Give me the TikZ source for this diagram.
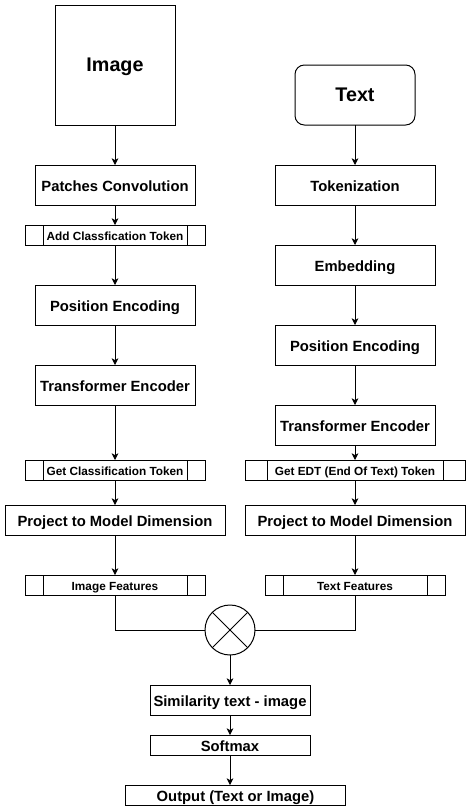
\documentclass[tikz,border=0pt]{standalone}
\usepackage{fontspec}
\setmainfont{Liberation Sans}
\usetikzlibrary{arrows.meta,calc}

\begin{document}
\begin{tikzpicture}[x=0.75pt,y=-0.75pt,line width=0.75pt,
    box/.style={draw,inner sep=0pt,outer sep=0pt,minimum width=120pt,minimum height=30pt,text height=1.2em,text depth=0.2em,font=\fontsize{11.1}{13}\selectfont\bfseries},
    wide/.style={box,minimum width=165pt,minimum height=22.5pt},
    proc/.style={box,minimum width=135pt,minimum height=15pt,text height=1.05em,font=\fontsize{8.85}{10}\selectfont\bfseries,
        path picture={\draw ($(path picture bounding box.north west)!0.1!(path picture bounding box.north east)$) -- ($(path picture bounding box.south west)!0.1!(path picture bounding box.south east)$)
            ($(path picture bounding box.north east)!0.1!(path picture bounding box.north west)$) -- ($(path picture bounding box.south east)!0.1!(path picture bounding box.south west)$);}},
    big/.style={box,font=\fontsize{14.8}{17}\selectfont\bfseries},
    arr/.style={-{Stealth[length=5pt,width=5pt,inset=1.3pt]}}]
    \useasboundingbox (0,0) rectangle (471,811);
    \node[big,minimum width=90pt,minimum height=90pt] (img) at (115,65) {Image};
    \node[box] (patch) at (115,185) {Patches Convolution};
    \node[proc] (addcls) at (115,235) {Add Classfication Token};
    \node[box] (posl) at (115,305) {Position Encoding};
    \node[box] (encl) at (115,385) {Transformer Encoder};
    \node[proc] (getcls) at (115,470) {Get Classification Token};
    \node[wide] (projl) at (115,520) {Project to Model Dimension};
    \node[proc] (imgfeat) at (115,585) {Image Features};
    \node[big,rounded corners=7pt,minimum width=90pt,minimum height=45pt] (txt) at (355,95) {Text};
    \node[box] (tok) at (355,185) {Tokenization};
    \node[box] (emb) at (355,265) {Embedding};
    \node[box] (posr) at (355,345) {Position Encoding};
    \node[box] (encr) at (355,425) {Transformer Encoder};
    \node[proc,minimum width=165pt] (getedt) at (355,470) {Get EDT (End Of Text) Token};
    \node[wide] (projr) at (355,520) {Project to Model Dimension};
    \node[proc] (txtfeat) at (355,585) {Text Features};
    \node[draw,circle,inner sep=0pt,outer sep=0pt,minimum size=37.5pt,
        path picture={\draw (path picture bounding box.north west) -- (path picture bounding box.south east)
            (path picture bounding box.north east) -- (path picture bounding box.south west);}] (mul) at (230,630) {};
    \node[wide,minimum width=120pt] (sim) at (230,700) {Similarity text - image};
    \node[box,minimum height=15pt] (soft) at (230,745) {Softmax};
    \node[wide,minimum height=15pt] (out) at (235.5,795) {Output (Text or Image)};
    \draw[arr] (img) -- (patch);
    \draw[arr] (patch) -- (addcls);
    \draw[arr] (addcls) -- (posl);
    \draw[arr] (posl) -- (encl);
    \draw[arr] (encl) -- (getcls);
    \draw[arr] (getcls) -- (projl);
    \draw[arr] (projl) -- (imgfeat);
    \draw[arr] (txt) -- (tok);
    \draw[arr] (tok) -- (emb);
    \draw[arr] (emb) -- (posr);
    \draw[arr] (posr) -- (encr);
    \draw[arr] (encr) -- (getedt);
    \draw[arr] (getedt) -- (projr);
    \draw[arr] (projr) -- (txtfeat);
    \draw (imgfeat) |- (mul);
    \draw (txtfeat) |- (mul);
    \draw[arr] (mul) -- (sim);
    \draw[arr] (sim) -- (soft);
    \draw[arr] (soft.south) -- (soft.south |- out.north);
\end{tikzpicture}
\end{document}
